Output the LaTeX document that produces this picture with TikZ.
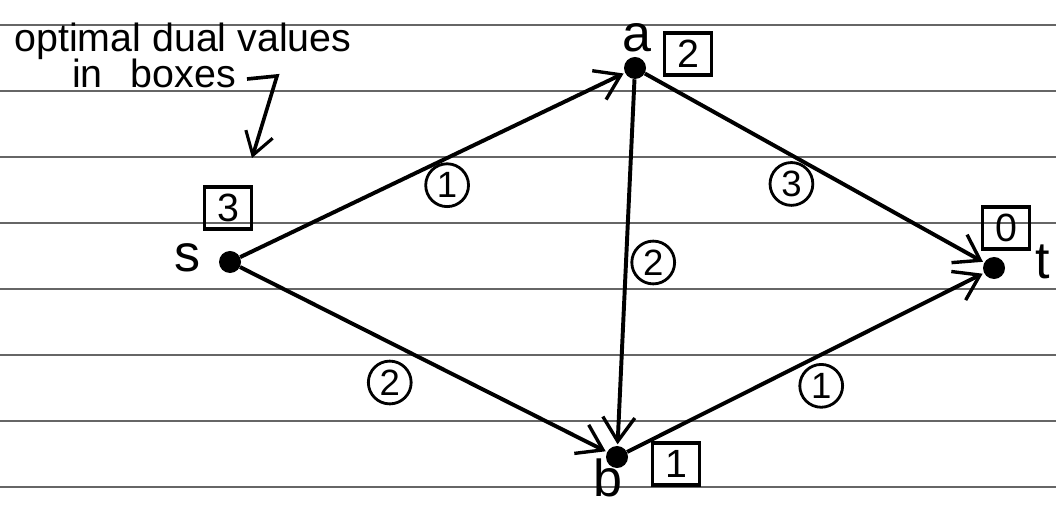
\documentclass[tikz,border=0pt]{standalone}
\usepackage{fontspec}
\setmainfont{Liberation Sans}
\usetikzlibrary{arrows.meta}
\begin{document}
\begin{tikzpicture}[x=0.025cm,y=-0.025cm,
  ruled/.style={black!60,line width=1pt},
  vdot/.style={circle,fill=black,inner sep=0pt,minimum size=0.55cm},
  vname/.style={font=\fontsize{37}{39}\selectfont,inner sep=0pt},
  dualbox/.style={draw,line width=2.4pt,minimum width=1.17cm,minimum height=1.05cm,inner sep=0pt,font=\fontsize{28}{30}\selectfont},
  elab/.style={draw,circle,line width=2pt,minimum size=1.07cm,inner sep=0pt,font=\fontsize{26}{28}\selectfont},
  edge/.style={line width=2.8pt,-{Straight Barb[length=6mm,width=8mm,line width=2.4pt]},shorten >=1pt},
  note/.style={font=\fontsize{28}{30}\selectfont,inner sep=0pt,anchor=base}
]
\useasboundingbox (0,0) rectangle (1056,510);
\fill[white] (0,0) rectangle (1056,510);
% ruled paper
\foreach \yy in {25,91,157,223,289,355,421,487}
  \draw[ruled] (0,\yy) -- (1056,\yy);
% vertices
\node[vdot] (s) at (230,262) {};
\node[vdot] (a) at (635,68) {};
\node[vdot] (b) at (617,457) {};
\node[vdot] (t) at (994,268) {};
% names
\node[vname] (ls) at (188,258) {s};
\node[vname] (la) at (637,38) {a};
\node[vname] (lb) at (608,478) {b};
\node[vname] (lt) at (1043,262) {t};
% dual values
\node[dualbox] (bs) at (228,208) {3};
\node[dualbox] (ba) at (688,54) {2};
\node[dualbox] (bb) at (676,464) {1};
\node[dualbox] (bt) at (1006,228) {0};
% edges
\draw[edge] (s) -- node[elab,pos=0.538,yshift=-0.68cm] (e1) {1} (a);
\draw[edge] (a) -- node[elab,pos=0.432,yshift=-0.72cm] (e2) {3} (t);
\draw[edge] (a) -- node[elab,pos=0.5,xshift=0.68cm] (e3) {2} (b);
\draw[edge] (s) -- node[elab,pos=0.408,yshift=-1.0cm] (e4) {2} (b);
\draw[edge] (b) -- node[elab,pos=0.544,yshift=-0.78cm] (e5) {1} (t);
% annotation
\node[note] (n1) at (183,52) {optimal dual values};
\node[note] (n2) at (154,88) {in\hspace{0.7cm}boxes};
\coordinate (c1) at (247,79);
\coordinate (c2) at (277,76);
\coordinate (c3) at (252,158);
\draw[line width=2.6pt,-{Straight Barb[length=5.5mm,width=7mm,line width=2.2pt]}] (c1) -- (c2) -- (c3);
\end{tikzpicture}
\end{document}
